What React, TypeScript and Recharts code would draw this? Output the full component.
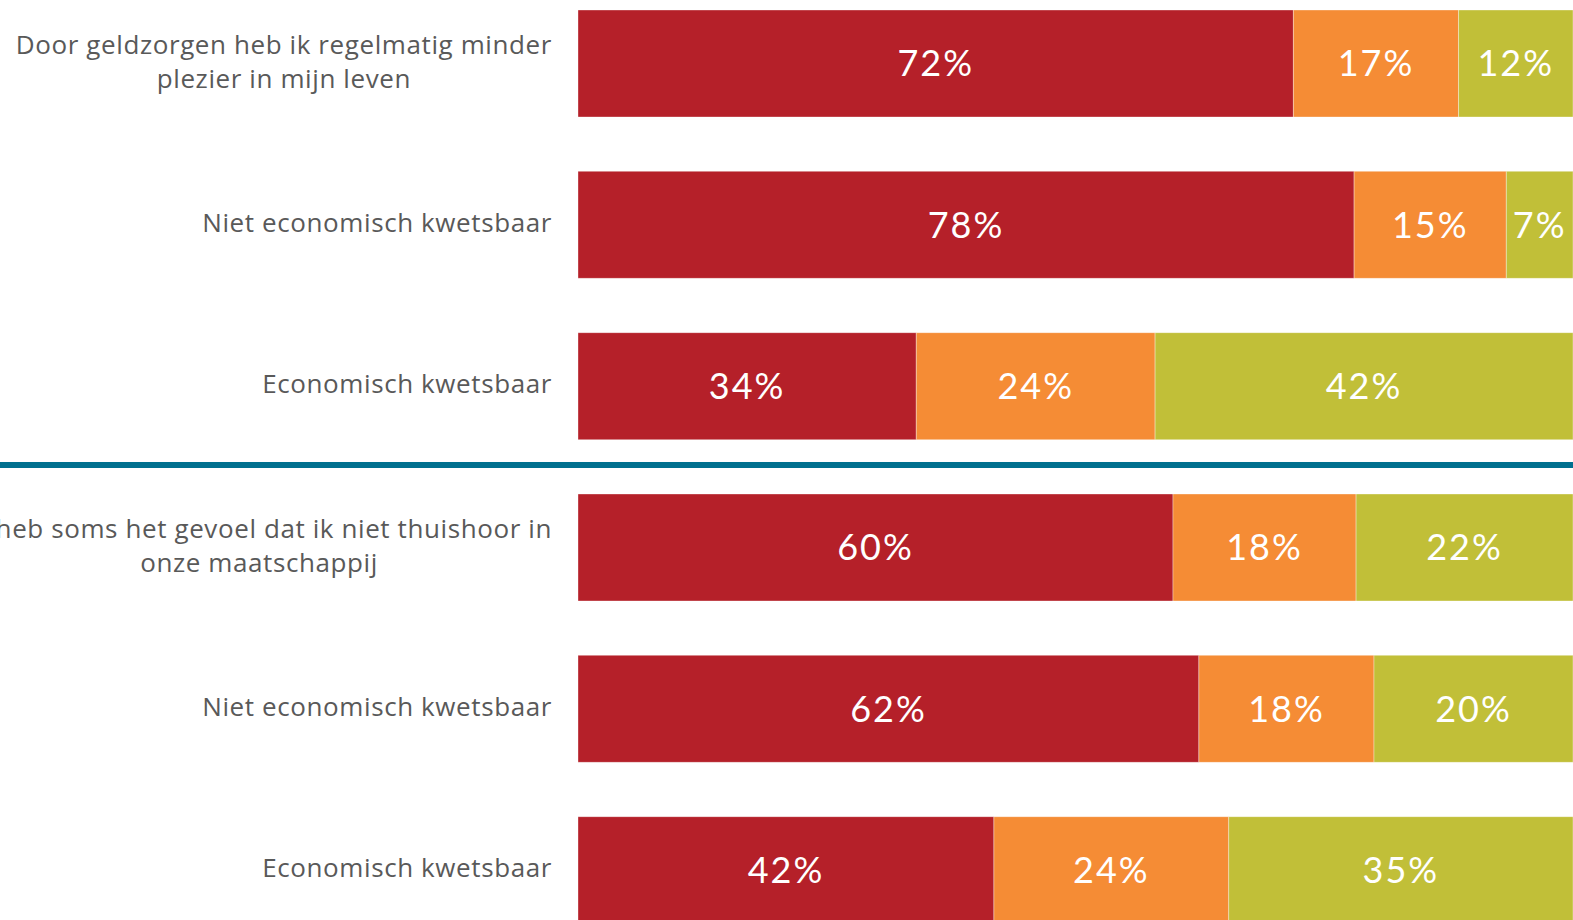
import { BarChart, Bar, XAxis, YAxis, LabelList } from 'recharts';

const categories = [
  'Door geldzorgen heb ik regelmatig minder\nplezier in mijn leven',
  'Niet economisch kwetsbaar',
  'Economisch kwetsbaar',
  'Ik heb soms het gevoel dat ik niet thuishoor in\nonze maatschappij',
  'Niet economisch kwetsbaar ',
  'Economisch kwetsbaar ',
];
const eens = [71.9, 78.0, 34.0, 59.8, 62.4, 41.8];
const neutraal = [16.6, 15.3, 24.0, 18.4, 17.6, 23.6];
const oneens = [11.5, 6.7, 42.0, 21.8, 20.0, 34.6];

const data = categories.map((name, i) => ({
  name,
  eens: eens[i],
  neutraal: neutraal[i],
  oneens: oneens[i],
}));

const LABEL_FONT = '26px "Open Sans"';
const LABEL_SPACING = 0.6;
const TEXT_RIGHT = 552;

function measure(text: string) {
  const c = document.createElement('canvas').getContext('2d');
  if (!c) return text.length * 14;
  c.font = LABEL_FONT;
  return c.measureText(text).width + text.length * LABEL_SPACING;
}

function CategoryTick(props: any) {
  const { y, payload } = props;
  const lines = String(payload.value).trim().split('\n');
  const maxW = Math.max(...lines.map(measure));
  const cx = TEXT_RIGHT - maxW / 2;
  const lineH = 34;
  const startY = y - 3 - ((lines.length - 1) * lineH) / 2;
  return (
    <text
      x={cx}
      y={startY}
      textAnchor="middle"
      dominantBaseline="central"
      fill="#595959"
      style={{ font: LABEL_FONT, letterSpacing: LABEL_SPACING }}
    >
      {lines.map((l, i) => (
        <tspan key={i} x={cx} y={startY + i * lineH} dominantBaseline="central">
          {l}
        </tspan>
      ))}
    </text>
  );
}

const fmt = (v: any) => `${Math.round(Number(v))}%`;

const valueLabel = {
  fill: '#ffffff',
  fontSize: 36,
  fontFamily: 'Lato',
  letterSpacing: 2,
};

export default function App() {
  return (
    <div
      style={{
        position: 'fixed',
        left: 0,
        top: 0,
        width: 1573,
        height: 920,
        overflow: 'hidden',
        background: '#fff',
      }}
    >
      <div style={{ position: 'absolute', left: 0, top: -17 }}>
        <BarChart
          width={1573}
          height={968}
          data={data}
          layout="vertical"
          margin={{ top: 0, right: 0, bottom: 0, left: 0 }}
        >
          <XAxis type="number" domain={[0, 100]} hide />
          <YAxis
            type="category"
            dataKey="name"
            width={578}
            axisLine={false}
            tickLine={false}
            tick={<CategoryTick />}
            interval={0}
          />
          <Bar dataKey="eens" stackId="a" fill="#b52029" barSize={107} stroke="#ffffff" strokeOpacity={0.35} strokeWidth={1} isAnimationActive={false}>
            <LabelList dataKey="eens" position="center" formatter={fmt} style={valueLabel} />
          </Bar>
          <Bar dataKey="neutraal" stackId="a" fill="#f58c35" barSize={107} stroke="#ffffff" strokeOpacity={0.35} strokeWidth={1} isAnimationActive={false}>
            <LabelList dataKey="neutraal" position="center" formatter={fmt} style={valueLabel} />
          </Bar>
          <Bar dataKey="oneens" stackId="a" fill="#c1bf38" barSize={107} stroke="#ffffff" strokeOpacity={0.35} strokeWidth={1} isAnimationActive={false}>
            <LabelList dataKey="oneens" position="center" formatter={fmt} style={valueLabel} />
          </Bar>
        </BarChart>
      </div>
      <div
        style={{
          position: 'absolute',
          left: 0,
          top: 462,
          width: 1573,
          height: 6,
          background: '#00708f',
        }}
      />
    </div>
  );
}
